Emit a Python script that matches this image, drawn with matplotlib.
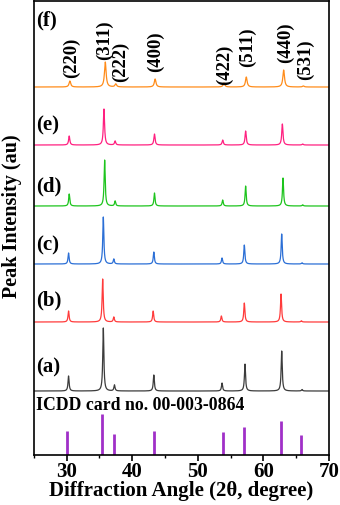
import numpy as np
import matplotlib
matplotlib.use("Agg")
import matplotlib.pyplot as plt

plt.rcParams["font.family"] = ["Liberation Serif", "DejaVu Serif"]
plt.rcParams["font.weight"] = "bold"

# Reflections (hkl) of the spinel phase
hkl = ["(220)", "(311)", "(222)", "(400)", "(422)", "(511)", "(440)", "(531)"]

# Samples, bottom (a) to top (f)
samples = ["(a)", "(b)", "(c)", "(d)", "(e)", "(f)"]
colors = ["#3c3c3c", "#ff3b3b", "#2b6fd6", "#1dc41d", "#ff2080", "#ff8c1a"]
offsets = [64, 133, 191, 249, 310, 368]
sample_label_y = [88, 155, 210, 269, 330, 435]

# Peak positions (2theta) read for each sample
pos_a = [30.3, 35.6, 37.3, 43.3, 53.7, 57.2, 62.8, 65.9]
pos_b = [30.3, 35.5, 37.2, 43.2, 53.6, 57.1, 62.7, 65.8]
pos_c = [30.3, 35.6, 37.2, 43.3, 53.7, 57.1, 62.8, 65.9]
pos_d = [30.4, 35.8, 37.4, 43.4, 53.8, 57.3, 63.0, 66.0]
pos_e = [30.4, 35.7, 37.4, 43.4, 53.8, 57.3, 62.9, 66.0]
pos_f = [30.5, 35.9, 37.5, 43.5, 54.0, 57.4, 63.1, 66.1]

# Peak heights read for each sample
h_a = [15, 63, 6, 16, 8, 27, 40, 1.5]
h_b = [11, 43, 5, 11, 6, 19, 28, 1.2]
h_c = [11, 47, 5, 12, 6, 19, 30, 1.2]
h_d = [12, 46, 5, 13, 6, 20, 28, 1.2]
h_e = [9, 36, 4, 11, 5, 14, 21, 1]
h_f = [6, 25, 3, 8, 4, 10, 17, 1]

# peak FWHM (degrees) per sample
fwhm = [0.2, 0.2, 0.2, 0.2, 0.22, 0.3]

positions = [pos_a, pos_b, pos_c, pos_d, pos_e, pos_f]
heights = [h_a, h_b, h_c, h_d, h_e, h_f]

# ICDD card no. 00-003-0864 reference lines
icdd_pos = [30.0, 35.4, 37.2, 43.3, 53.8, 57.1, 62.7, 65.7]
icdd_int = [24, 41, 21, 24, 23, 28, 34, 20]

# (hkl) label positions above the top pattern
label_x = [30.8, 35.8, 38.2, 43.6, 54.1, 57.6, 63.4, 66.5]
label_y = [377, 395, 373, 383, 370, 388, 392, 375]

fig = plt.figure(figsize=(3.4, 5.05), dpi=100)
ax = fig.add_axes([0.0994, 0.099, 0.868, 0.899])

tt = np.linspace(25, 70, 4000)
for i in range(len(samples)):
    y = np.zeros_like(tt)
    for p, h in zip(positions[i], heights[i]):
        y += h / (1 + ((tt - p) / (fwhm[i] / 2)) ** 2)
    ax.plot(tt, y + offsets[i], color=colors[i], lw=0.9)
    ax.text(25.35, sample_label_y[i], samples[i], fontsize=15,
            fontweight="bold", va="center", ha="left")

ax.vlines(icdd_pos, 0, icdd_int, colors="#a030c8", lw=2)
ax.text(25.35, 50, "ICDD card no. 00-003-0864", fontsize=12.8,
        fontweight="bold", va="center", ha="left")

for lab, lx, ly in zip(hkl, label_x, label_y):
    ax.text(lx, ly, lab, rotation=90, fontsize=13.5, fontweight="bold",
            ha="center", va="bottom")

ax.set_xlim(25, 70)
ax.set_ylim(0, 454)
ax.set_xticks([30, 40, 50, 60, 70])
ax.set_xticks([25, 35, 45, 55, 65], minor=True)
ax.set_yticks([])
ax.tick_params(axis="x", direction="out", length=4, width=1.2, labelsize=15, pad=1)
ax.tick_params(axis="x", which="minor", direction="out", length=2.5, width=1.0)
for lab in ax.get_xticklabels():
    lab.set_fontweight("bold")
for s in ax.spines.values():
    s.set_linewidth(1.2)

ax.set_xlabel("Diffraction Angle (2\u03b8, degree)", fontsize=15, fontweight="bold")
ax.xaxis.set_label_coords(0.5, -0.058)
ax.set_ylabel("Peak Intensity (au)", fontsize=14.5, fontweight="bold")
ax.yaxis.set_label_coords(-0.04, 0.526)

fig.savefig("out.png", dpi=100)
